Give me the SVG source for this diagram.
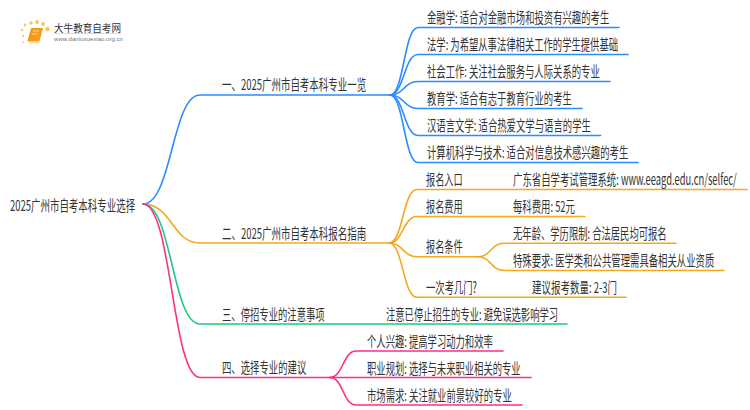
<svg xmlns="http://www.w3.org/2000/svg" width="750" height="410" viewBox="0 0 750 410">
<style>
text{font-family:"Noto Sans CJK SC","Liberation Sans",sans-serif;font-size:15px;fill:#333;dominant-baseline:central}
.c{fill:none;stroke-width:1.6;stroke-linecap:round}
.b{stroke:#2a8cff}.o{stroke:#f5a81c}.g{stroke:#1fc97f}.p{stroke:#ff2e86}
</style>
<rect width="750" height="410" fill="#fff"/>
<g id="logo">
<g fill="#fbc65a"><circle cx="25" cy="25" r="1.4"/><circle cx="31" cy="23" r="1.8"/><circle cx="37" cy="22" r="1.9"/><circle cx="43" cy="24" r="1.9"/><circle cx="47.500" cy="29" r="2.200"/><circle cx="22" cy="30" r="1.200"/><circle cx="23" cy="36" r="1.100"/><circle cx="23.500" cy="42" r="0.900"/></g>
<path d="M31 28H43L39.500 41H27.500Z" fill="#f59a16"/><path d="M27.500 41H39.500L39 43H28.500Z" fill="#fbd79a"/><path d="M33 31H39M32 34H38" stroke="#fbd79a" stroke-width="1"/>
<text x="54" y="27" textLength="67" lengthAdjust="spacingAndGlyphs" style="font-size:10px">大牛教育自考网</text>
<rect x="54" y="33" width="67" height="0.7" fill="#ccc"/>
<text x="54" y="38.500" textLength="69" lengthAdjust="spacingAndGlyphs" style="font-size:6px;fill:#777;font-family:'Liberation Sans',sans-serif">www.daniuxuexiao.org.cn</text>
</g>
<g id="connectors">
<path class="c b" d="M143 204C172 204 172 95 200 95H390"/>
<path class="c o" d="M143 204C172 204 172 243 200 243H389"/>
<path class="c g" d="M143 204C172 204 172 324 200 324H567"/>
<path class="c p" d="M143 204C172 204 172 377.500 200 377.500H330"/>
<path class="c b" d="M390 95C404 95 404 27.500 418 27.500H619"/><path class="c b" d="M390 95C404 95 404 54.500 418 54.500H628"/><path class="c b" d="M390 95C404 95 404 81.500 418 81.500H610"/><path class="c b" d="M390 95C404 95 404 108.500 418 108.500H582"/><path class="c b" d="M390 95C404 95 404 135.500 418 135.500H600.500"/><path class="c b" d="M390 95C404 95 404 162.500 418 162.500H638"/>
<path class="c o" d="M389 243C403 243 403 189.500 417 189.500H747"/>
<path class="c o" d="M389 243C403 243 403 216.500 417 216.500H585"/>
<path class="c o" d="M389 243C403 243 403 256.700 417 256.700H478"/>
<path class="c o" d="M389 243C403 243 403 297.300 417 297.300H626"/>
<path class="c o" d="M478 256.700C491 256.700 491 243.300 504 243.300H676"/>
<path class="c o" d="M478 256.700C491 256.700 491 270.500 504 270.500H724"/>
<path class="c p" d="M330 377.500C343 377.500 343 351 356 351H503"/>
<path class="c p" d="M330 377.500H531"/>
<path class="c p" d="M330 377.500C343 377.500 343 405 356 405H522"/>
</g>
<g id="root"><text transform="translate(10 205) scale(.68 1)" textLength="184" lengthAdjust="spacingAndGlyphs">2025广州市自考本科专业选择</text></g>
<g id="n1"><text transform="translate(222 84) scale(.68 1)" textLength="212" lengthAdjust="spacingAndGlyphs">一、2025广州市自考本科专业一览</text></g>
<g id="n2"><text transform="translate(222 233) scale(.68 1)" textLength="212" lengthAdjust="spacingAndGlyphs">二、2025广州市自考本科报名指南</text></g>
<g id="n3"><text transform="translate(222 314) scale(.68 1)" textLength="151" lengthAdjust="spacingAndGlyphs">三、停招专业的注意事项</text></g>
<g id="n4"><text transform="translate(222 367) scale(.68 1)" textLength="124" lengthAdjust="spacingAndGlyphs">四、选择专业的建议</text></g>
<g id="n11"><text transform="translate(427 17) scale(.68 1)" textLength="268" lengthAdjust="spacingAndGlyphs">金融学: 适合对金融市场和投资有兴趣的考生</text></g>
<g id="n12"><text transform="translate(427 44) scale(.68 1)" textLength="281" lengthAdjust="spacingAndGlyphs">法学: 为希望从事法律相关工作的学生提供基础</text></g>
<g id="n13"><text transform="translate(427 71) scale(.68 1)" textLength="254" lengthAdjust="spacingAndGlyphs">社会工作: 关注社会服务与人际关系的专业</text></g>
<g id="n14"><text transform="translate(427 98) scale(.68 1)" textLength="213" lengthAdjust="spacingAndGlyphs">教育学: 适合有志于教育行业的考生</text></g>
<g id="n15"><text transform="translate(427 125) scale(.68 1)" textLength="241" lengthAdjust="spacingAndGlyphs">汉语言文学: 适合热爱文学与语言的学生</text></g>
<g id="n16"><text transform="translate(427 152) scale(.68 1)" textLength="296" lengthAdjust="spacingAndGlyphs">计算机科学与技术: 适合对信息技术感兴趣的考生</text></g>
<g id="n21"><text transform="translate(426 179) scale(.68 1)" textLength="54" lengthAdjust="spacingAndGlyphs">报名入口</text><text transform="translate(513 179) scale(.6 1)" textLength="373" lengthAdjust="spacingAndGlyphs">广东省自学考试管理系统: www.eeagd.edu.cn/selfec/</text></g>
<g id="n22"><text transform="translate(426 206) scale(.68 1)" textLength="54" lengthAdjust="spacingAndGlyphs">报名费用</text><text transform="translate(513 206) scale(.68 1)" textLength="91" lengthAdjust="spacingAndGlyphs">每科费用: 52元</text></g>
<g id="n23"><text transform="translate(426 246) scale(.68 1)" textLength="54" lengthAdjust="spacingAndGlyphs">报名条件</text><text transform="translate(513 233) scale(.68 1)" textLength="226" lengthAdjust="spacingAndGlyphs">无年龄、学历限制: 合法居民均可报名</text><text transform="translate(513 260) scale(.68 1)" textLength="296" lengthAdjust="spacingAndGlyphs">特殊要求: 医学类和公共管理需具备相关从业资质</text></g>
<g id="n24"><text transform="translate(426 287) scale(.68 1)" textLength="75" lengthAdjust="spacingAndGlyphs">一次考几门?</text><text transform="translate(532 287) scale(.68 1)" textLength="125" lengthAdjust="spacingAndGlyphs">建议报考数量: 2-3门</text></g>
<g id="n31"><text transform="translate(386 314) scale(.68 1)" textLength="253" lengthAdjust="spacingAndGlyphs">注意已停止招生的专业: 避免误选影响学习</text></g>
<g id="n41"><text transform="translate(367 341) scale(.68 1)" textLength="185" lengthAdjust="spacingAndGlyphs">个人兴趣: 提高学习动力和效率</text></g>
<g id="n42"><text transform="translate(367 368) scale(.68 1)" textLength="226" lengthAdjust="spacingAndGlyphs">职业规划: 选择与未来职业相关的专业</text></g>
<g id="n43"><text transform="translate(367 395) scale(.68 1)" textLength="213" lengthAdjust="spacingAndGlyphs">市场需求: 关注就业前景较好的专业</text></g>
</svg>
